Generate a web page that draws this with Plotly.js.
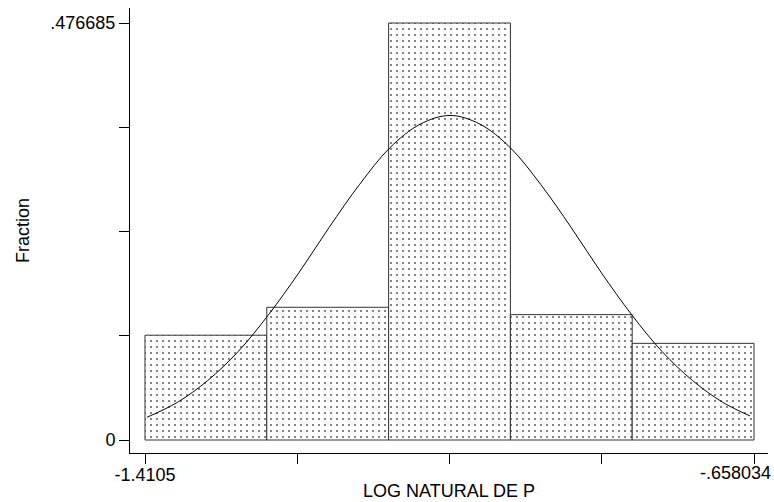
<!DOCTYPE html>
<html>
<head>
<meta charset="utf-8">
<script src="https://cdn.plot.ly/plotly-3.0.1.min.js"></script>
<style>html,body{margin:0;padding:0;background:#fff;}#chart{width:774px;height:502px;}</style>
</head>
<body>
<div id="chart"></div>
<script>
// Histogram bins (LOG NATURAL DE P): bin centers and fractions
const binStart = -1.4105;
const binEnd = -0.658034;
const binCenters = [-1.33526, -1.18477, -1.03427, -0.88378, -0.73328];
const fractions = [0.1198, 0.1517, 0.476685, 0.1433, 0.1105];

// Overlaid normal curve
const curveX = [-1.408, -1.3705, -1.333, -1.2955, -1.258, -1.2205, -1.183, -1.1455, -1.108, -1.0705, -1.0336,
                -0.9965, -0.959, -0.9215, -0.884, -0.8465, -0.809, -0.7715, -0.734, -0.6965, -0.663];
const curveY = [0.026, 0.043, 0.068, 0.101, 0.143, 0.191, 0.243, 0.292, 0.334, 0.361, 0.371,
                0.361, 0.334, 0.292, 0.243, 0.191, 0.143, 0.101, 0.068, 0.043, 0.0275];

// Axis ticks
const xTickVals = [-1.4105, -1.222384, -1.034267, -0.846151, -0.658034];
const xTickText = ['-1.4105', '', '', '', ''];
const xLastLabel = '-.658034';
const yTickVals = [0, 0.119171, 0.238343, 0.357514, 0.476685];
const yTickText = ['0', '', '', '', '.476685'];

const binWidth = (binEnd - binStart) / fractions.length;

const font = {family: 'Arial, "Liberation Sans", sans-serif', size: 18, color: '#000'};

const traces = [
  {
    type: 'bar',
    x: binCenters,
    y: fractions,
    width: binCenters.map(() => binWidth),
    marker: {
      color: '#fff',
      line: {color: '#333', width: 1},
      pattern: {shape: '.', fgcolor: '#666', bgcolor: '#fff', size: 6, solidity: 0.1, fillmode: 'replace'}
    },
    hoverinfo: 'skip',
    showlegend: false
  },
  {
    type: 'scatter',
    mode: 'lines',
    x: curveX,
    y: curveY,
    line: {color: '#000', width: 1, shape: 'spline'},
    hoverinfo: 'skip',
    showlegend: false
  }
];

const layout = {
  width: 774,
  height: 502,
  margin: {l: 130, r: 6, t: 8, b: 49, pad: 0},
  paper_bgcolor: '#fff',
  plot_bgcolor: '#fff',
  font: font,
  bargap: 0,
  xaxis: {
    range: [-1.42903, -0.64074],
    tickmode: 'array',
    tickvals: xTickVals,
    ticktext: xTickText,
    ticks: 'outside',
    ticklen: 10,
    tickwidth: 1,
    tickcolor: '#000',
    ticklabelstandoff: -5,
    showline: true,
    linecolor: '#000',
    linewidth: 1,
    showgrid: false,
    zeroline: false,
    tickfont: font,
    title: {text: 'LOG NATURAL DE P', font: font, standoff: 0}
  },
  yaxis: {
    range: [-0.01486, 0.49383],
    tickmode: 'array',
    tickvals: yTickVals,
    ticktext: yTickText,
    ticks: 'outside',
    ticklen: 10,
    tickwidth: 1,
    tickcolor: '#000',
    showline: true,
    linecolor: '#000',
    linewidth: 1,
    showgrid: false,
    zeroline: false,
    tickfont: font,
    title: {text: 'Fraction', font: font, standoff: 16}
  },
  annotations: [
    {
      text: xLastLabel,
      xref: 'x', yref: 'paper',
      x: xTickVals[xTickVals.length - 1], y: 0,
      xanchor: 'center', yanchor: 'middle',
      xshift: -19, yshift: -20,
      showarrow: false,
      font: font
    }
  ]
};

Plotly.newPlot('chart', traces, layout, {staticPlot: true, displayModeBar: false});
</script>
</body>
</html>
